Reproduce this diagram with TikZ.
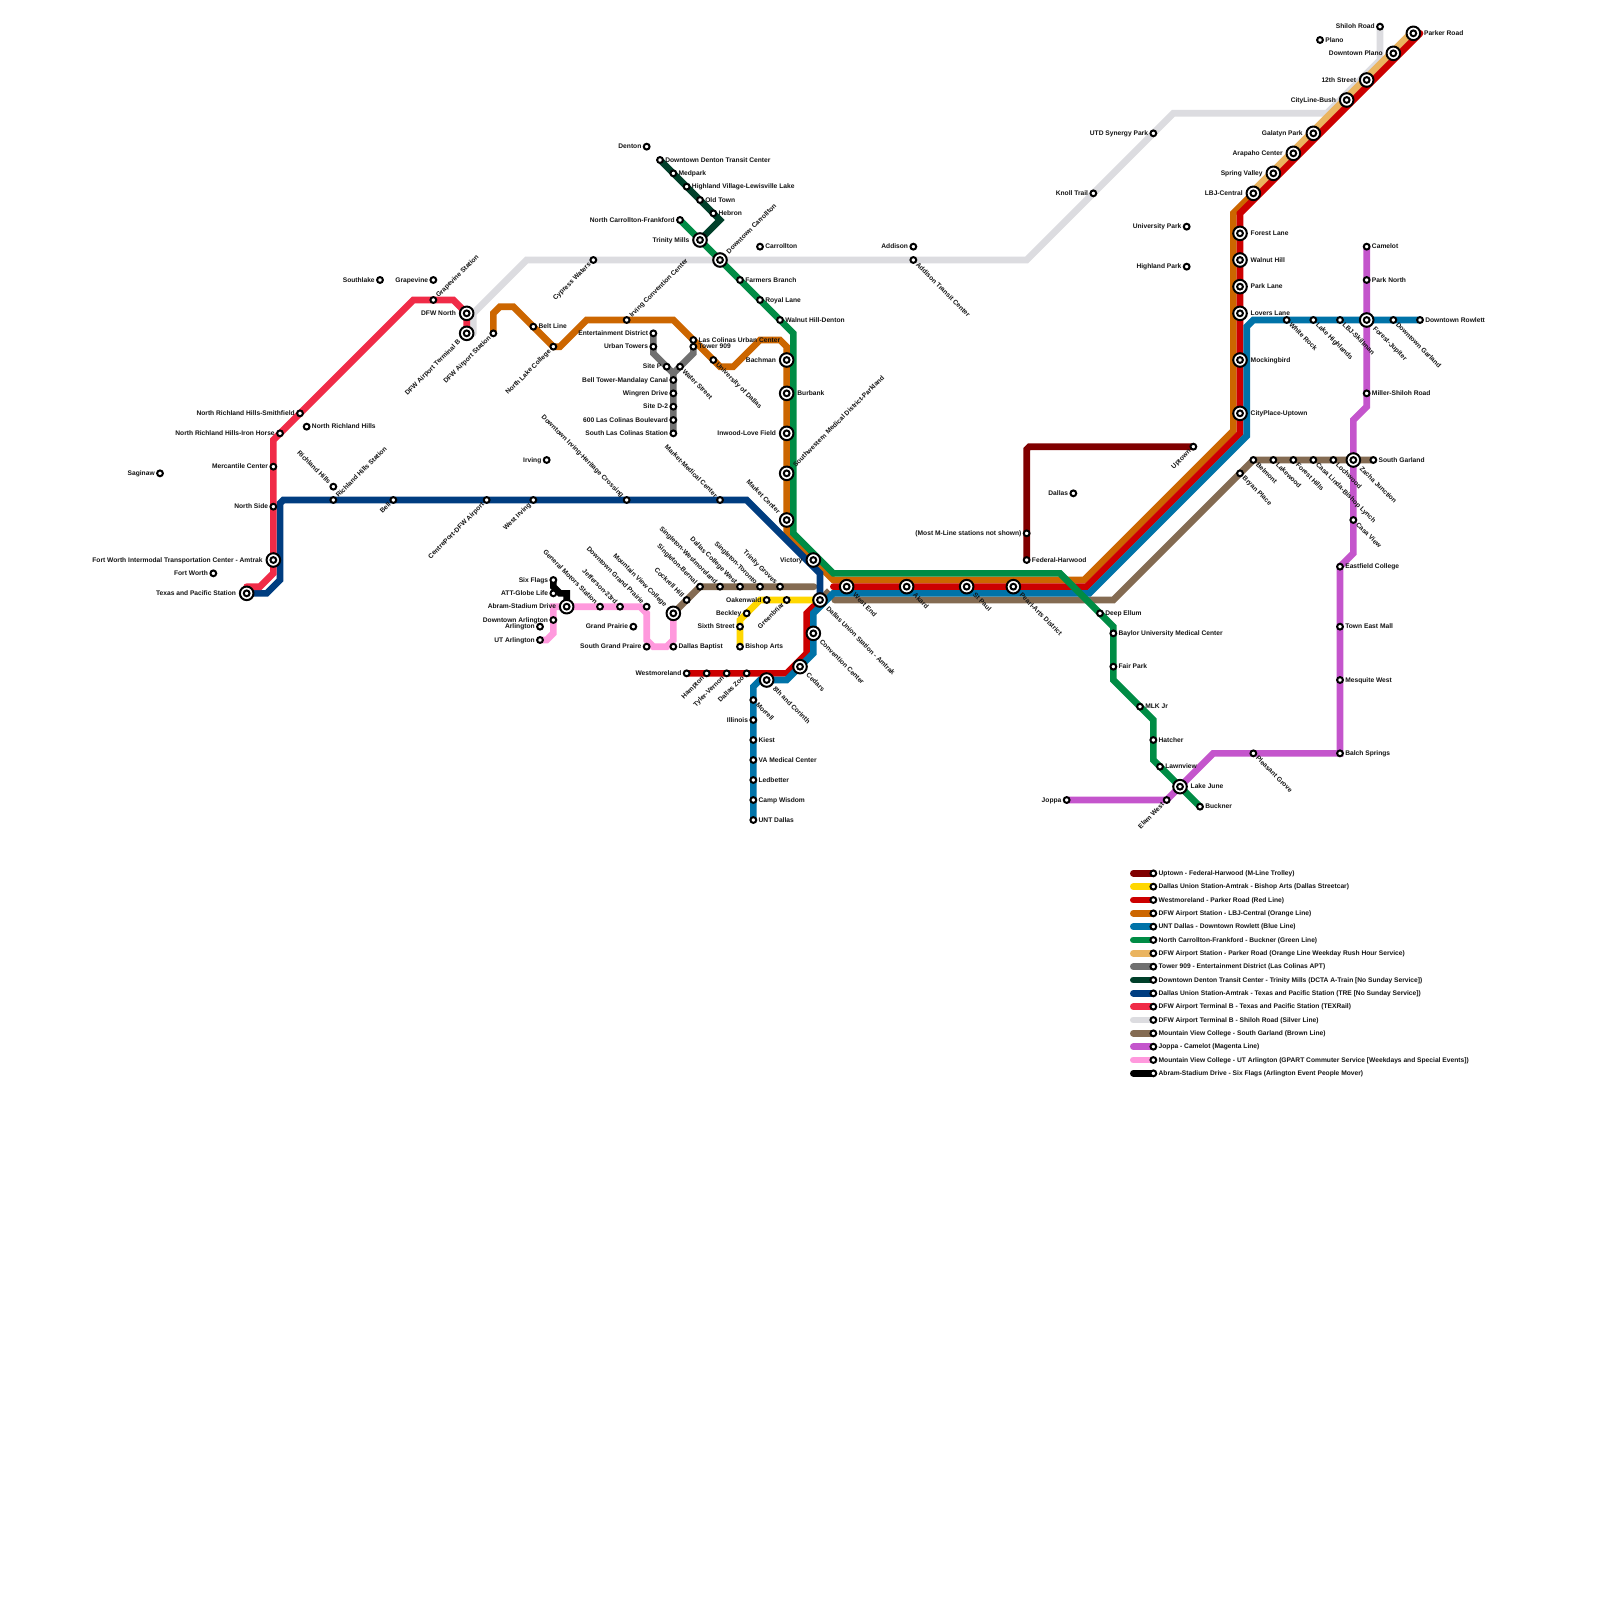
\documentclass[tikz,border=0pt]{standalone}
\usepackage{fontspec}
\setmainfont{Liberation Sans}
\pgfdeclarelayer{lines}
\pgfsetlayers{lines,main}
\definecolor{cM}{HTML}{800000}
\definecolor{cY}{HTML}{FFD700}
\definecolor{cR}{HTML}{CC0000}
\definecolor{cO}{HTML}{CC6600}
\definecolor{cB}{HTML}{0073A8}
\definecolor{cG}{HTML}{008C45}
\definecolor{cT}{HTML}{EAB45F}
\definecolor{cGy}{HTML}{707070}
\definecolor{cA}{HTML}{00402A}
\definecolor{cTRE}{HTML}{003D80}
\definecolor{cTX}{HTML}{F02B47}
\definecolor{cS}{HTML}{DCDCE0}
\definecolor{cBr}{HTML}{846B52}
\definecolor{cMg}{HTML}{C455CC}
\definecolor{cP}{HTML}{FF99DD}
\tikzset{
  smallst/.style={circle,draw=black,fill=white,line width=2pt,minimum size=5.8pt,inner sep=0pt,outer sep=0pt},
  bigst/.style={circle,draw=black,fill=white,line width=2pt,minimum size=13.6pt,inner sep=0pt,outer sep=0pt},
  lab/.style={font=\fontsize{6.667pt}{7pt}\selectfont\bfseries,text=black!92,inner sep=0pt,outer sep=0pt,text height=4.7pt,text depth=0.2pt},
  dirR/.style={shift={(0:#1)},anchor=west},
  dirL/.style={shift={(180:#1)},anchor=east},
  dirNE/.style={shift={(45:#1)},rotate=45,anchor=west},
  dirSE/.style={shift={(-45:#1)},rotate=-45,anchor=west},
  dirNW/.style={shift={(135:#1)},rotate=-45,anchor=east},
  dirSW/.style={shift={(225:#1)},rotate=45,anchor=east},
  metro/.style={line width=6.67pt,line cap=round,line join=miter,miter limit=10},
}
\newcommand{\Sm}[5]{\node[smallst] (#1) at (#2,#3) {}; \node[lab,dir#4=5.3pt] (#1-t) at (#1.center) {#5};}
\newcommand{\Bg}[5]{\node[bigst] (#1) at (#2,#3) {}; \node[smallst] (#1-i) at (#1.center) {}; \node[lab,dir#4=10.7pt] (#1-t) at (#1.center) {#5};}
\newcommand{\Lg}[4]{\coordinate (#1-a) at (170,#2); \node[smallst] (#1) at (173,#2) {}; \node[lab,dirR=5.3pt] (#1-t) at (#1.center) {#4}; \begin{pgfonlayer}{lines}\draw[metro,draw=#3] (#1-a) -- (#1.center);\end{pgfonlayer}}
\begin{document}
\begin{tikzpicture}[x=6.66667pt,y=-6.66667pt]
\useasboundingbox (0,0) rectangle (240,240);
\begin{pgfonlayer}{lines}
\fill[white] (0,0) rectangle (240,240);
\end{pgfonlayer}
% A-train / green north
\Sm{denton}{97}{22}{L}{Denton}
\Sm{ddtc}{99}{24}{R}{Downtown Denton Transit Center}
\Sm{medpark}{101}{26}{R}{Medpark}
\Sm{highland}{103}{28}{R}{Highland Village-Lewisville Lake}
\Sm{oldtown}{105}{30}{R}{Old Town}
\Sm{hebron}{107}{32}{R}{Hebron}
\Sm{ncf}{102}{33}{L}{North Carrollton-Frankford}
\Bg{trinity}{105}{36}{L}{Trinity Mills}
\Bg{dcarr}{108}{39}{NE}{Downtown Carrollton}
\Sm{carrollton}{114}{37}{R}{Carrollton}
\Sm{farmers}{111}{42}{R}{Farmers Branch}
\Sm{royal}{114}{45}{R}{Royal Lane}
\Sm{walnutd}{117}{48}{R}{Walnut Hill-Denton}
\Bg{bachman}{118}{54}{L}{Bachman}
\Bg{burbank}{118}{59}{R}{Burbank}
\Bg{inwood}{118}{65}{L}{Inwood-Love Field}
\Bg{swmd}{118}{71}{NE}{Southwestern Medical District-Parkland}
\Bg{marketc}{118}{78}{NW}{Market Center}
% silver
\Sm{cypress}{89}{39}{SW}{Cypress Waters}
\Sm{addison}{137}{37}{L}{Addison}
\Sm{addisontc}{137}{39}{SE}{Addison Transit Center}
\Sm{knoll}{164}{29}{L}{Knoll Trail}
\Sm{utd}{173}{20}{L}{UTD Synergy Park}
\Sm{upark}{178}{34}{L}{University Park}
\Sm{hpark}{178}{40}{L}{Highland Park}
\Sm{shiloh}{207}{4}{L}{Shiloh Road}
\Sm{plano}{198}{6}{R}{Plano}
% red / orange north-east
\Bg{parker}{212}{5}{R}{Parker Road}
\Bg{dplano}{209}{8}{L}{Downtown Plano}
\Bg{twelfth}{205}{12}{L}{12th Street}
\Bg{cityline}{202}{15}{L}{CityLine-Bush}
\Bg{galatyn}{197}{20}{L}{Galatyn Park}
\Bg{arapaho}{194}{23}{L}{Arapaho Center}
\Bg{spring}{191}{26}{L}{Spring Valley}
\Bg{lbj}{188}{29}{L}{LBJ-Central}
\Bg{forest}{186}{35}{R}{Forest Lane}
\Bg{walnut}{186}{39}{R}{Walnut Hill}
\Bg{parklane}{186}{43}{R}{Park Lane}
\Bg{lovers}{186}{47}{R}{Lovers Lane}
\Bg{mocking}{186}{54}{R}{Mockingbird}
\Bg{cityplace}{186}{62}{R}{CityPlace-Uptown}
% blue east
\Sm{whiterock}{193}{48}{SE}{White Rock}
\Sm{lakehigh}{197}{48}{SE}{Lake Highlands}
\Sm{skillman}{201}{48}{SE}{LBJ-Skillman}
\Bg{jupiter}{205}{48}{SE}{Forest-Jupiter}
\Sm{dgarland}{209}{48}{SE}{Downtown Garland}
\Sm{rowlett}{213}{48}{R}{Downtown Rowlett}
% magenta
\Sm{camelot}{205}{37}{R}{Camelot}
\Sm{parknorth}{205}{42}{R}{Park North}
\Sm{miller}{205}{59}{R}{Miller-Shiloh Road}
\Sm{casaview}{203}{78}{SE}{Casa View}
\Sm{eastfield}{201}{85}{R}{Eastfield College}
\Sm{towneast}{201}{94}{R}{Town East Mall}
\Sm{mesquite}{201}{102}{R}{Mesquite West}
\Sm{balch}{201}{113}{R}{Balch Springs}
\Sm{pleasant}{188}{113}{SE}{Pleasant Grove}
\Bg{lakejune}{177}{118}{R}{Lake June}
\Sm{elam}{175}{120}{SW}{Elam West}
\Sm{joppa}{160}{120}{L}{Joppa}
% brown east
\Sm{belmont}{188}{69}{SE}{Belmont}
\Sm{bryan}{186}{71}{SE}{Bryan Place}
\Sm{lakewood}{191}{69}{SE}{Lakewood}
\Sm{foresthills}{194}{69}{SE}{Forest Hills}
\Sm{casalinda}{197}{69}{SE}{Casa Linda-Bishop Lynch}
\Sm{lochwood}{200}{69}{SE}{Lochwood}
\Bg{zacha}{203}{69}{SE}{Zacha Junction}
\Sm{sgarland}{206}{69}{R}{South Garland}
% M-line
\Sm{uptown}{179}{67}{SW}{Uptown}
\Sm{mostm}{154}{80}{L}{(Most M-Line stations not shown)}
\Sm{federal}{154}{84}{R}{Federal-Harwood}
\Sm{dallas}{161}{74}{L}{Dallas}
% green south
\Sm{deepellum}{165}{92}{R}{Deep Ellum}
\Sm{baylor}{167}{95}{R}{Baylor University Medical Center}
\Sm{fairpark}{167}{100}{R}{Fair Park}
\Sm{mlk}{171}{106}{R}{MLK Jr}
\Sm{hatcher}{173}{111}{R}{Hatcher}
\Sm{lawnview}{174}{115}{R}{Lawnview}
\Sm{buckner}{180}{121}{R}{Buckner}
% downtown
\Bg{victory}{122}{84}{L}{Victory}
\Bg{union}{123}{90}{SE}{Dallas Union Station - Amtrak}
\Bg{westend}{127}{88}{SE}{West End}
\Bg{akard}{136}{88}{SE}{Akard}
\Bg{stpaul}{145}{88}{SE}{St Paul}
\Bg{pearl}{152}{88}{SE}{Pearl-Arts District}
\Bg{convention}{122}{95}{SE}{Convention Center}
\Bg{cedars}{120}{100}{SE}{Cedars}
\Bg{corinth}{115}{102}{SE}{8th and Corinth}
% yellow
\Sm{greenbriar}{118}{90}{SW}{Greenbriar}
\Sm{oakenwald}{115}{90}{L}{Oakenwald}
\Sm{beckley}{112}{92}{L}{Beckley}
\Sm{sixth}{111}{94}{L}{Sixth Street}
\Sm{bishop}{111}{97}{R}{Bishop Arts}
% red south-west
\Sm{westmoreland}{103}{101}{L}{Westmoreland}
\Sm{hampton}{106}{101}{SW}{Hampton}
\Sm{tyler}{109}{101}{SW}{Tyler-Vernon}
\Sm{zoo}{112}{101}{SW}{Dallas Zoo}
% blue south
\Sm{morrell}{113}{105}{SE}{Morrell}
\Sm{illinois}{113}{108}{L}{Illinois}
\Sm{kiest}{113}{111}{R}{Kiest}
\Sm{va}{113}{114}{R}{VA Medical Center}
\Sm{ledbetter}{113}{117}{R}{Ledbetter}
\Sm{campw}{113}{120}{R}{Camp Wisdom}
\Sm{unt}{113}{123}{R}{UNT Dallas}
% brown west
\Bg{mvc}{101}{92}{NW}{Mountain View College}
\Sm{cockrell}{103}{90}{NW}{Cockrell Hill}
\Sm{bernal}{105}{88}{NW}{Singleton-Bernal}
\Sm{swest}{108}{88}{NW}{Singleton-Westmoreland}
\Sm{dcw}{111}{88}{NW}{Dallas College West}
\Sm{storonto}{114}{88}{NW}{Singleton-Toronto}
\Sm{groves}{117}{88}{NW}{Trinity Groves}
% pink / black
\Sm{dbaptist}{101}{97}{R}{Dallas Baptist}
\Sm{sgp}{97}{97}{L}{South Grand Praire}
\Sm{gp}{95}{94}{L}{Grand Prairie}
\Sm{dgp}{97}{91}{NW}{Downtown Grand Prairie}
\Sm{jeff}{93}{91}{NW}{Jefferson-23rd}
\Sm{gm}{90}{91}{NW}{General Motors Station}
\Bg{abram}{85}{91}{L}{Abram-Stadium Drive}
\Sm{sixflags}{83}{87}{L}{Six Flags}
\Sm{att}{83}{89}{L}{ATT-Globe Life}
\Sm{darl}{83}{93}{L}{Downtown Arlington}
\Sm{arl}{81}{94}{L}{Arlington}
\Sm{uta}{81}{96}{L}{UT Arlington}
% orange west
\Sm{dfwa}{74}{50}{SW}{DFW Airport Station}
\Sm{beltline}{80}{49}{R}{Belt Line}
\Sm{nlc}{83}{52}{SW}{North Lake College}
\Sm{icc}{94}{48}{NE}{Irving Convention Center}
\Sm{lcuc}{104}{51}{R}{Las Colinas Urban Center}
\Sm{tower}{104}{52}{R}{Tower 909}
\Sm{udallas}{107}{54}{SE}{University of Dallas}
% grey
\Sm{ent}{98}{50}{L}{Entertainment District}
\Sm{urban}{98}{52}{L}{Urban Towers}
\Sm{sitep}{100}{55}{L}{Site P}
\Sm{water}{102}{55}{SE}{Water Street}
\Sm{bell2}{101}{57}{L}{Bell Tower-Mandalay Canal}
\Sm{wingren}{101}{59}{L}{Wingren Drive}
\Sm{sited}{101}{61}{L}{Site D-2}
\Sm{lc600}{101}{63}{L}{600 Las Colinas Boulevard}
\Sm{slc}{101}{65}{L}{South Las Colinas Station}
% TRE
\Sm{irving}{82}{69}{L}{Irving}
\Sm{marketm}{108}{75}{NW}{Market-Medical Center}
\Sm{dirving}{94}{75}{NW}{Downtown Irving-Heritage Crossing}
\Sm{wirving}{80}{75}{SW}{West Irving}
\Sm{centre}{73}{75}{SW}{CentrePort-DFW Airport}
\Sm{bell}{59}{75}{SW}{Bell}
\Sm{rhs}{50}{75}{NE}{Richland Hills Station}
\Sm{rh}{50}{73}{NW}{Richland Hills}
% TEXRail
\Bg{dfwn}{70}{47}{L}{DFW North}
\Bg{termb}{70}{50}{SW}{DFW Airport Terminal B}
\Sm{grapes}{65}{45}{NE}{Grapevine Station}
\Sm{grapevine}{65}{42}{L}{Grapevine}
\Sm{southlake}{57}{42}{L}{Southlake}
\Sm{nrhs}{45}{62}{L}{North Richland Hills-Smithfield}
\Sm{nrhi}{42}{65}{L}{North Richland Hills-Iron Horse}
\Sm{nrh}{46}{64}{R}{North Richland Hills}
\Sm{mercantile}{41}{70}{L}{Mercantile Center}
\Sm{northside}{41}{76}{L}{North Side}
\Bg{fwit}{41}{84}{L}{Fort Worth Intermodal Transportation Center - Amtrak}
\Sm{fw}{32}{86}{L}{Fort Worth}
\Bg{tp}{37}{89}{L}{Texas and Pacific Station}
\Sm{saginaw}{24}{71}{L}{Saginaw}
% legend
\Lg{lg1}{131}{cM}{Uptown - Federal-Harwood (M-Line Trolley)}
\Lg{lg2}{133}{cY}{Dallas Union Station-Amtrak - Bishop Arts (Dallas Streetcar)}
\Lg{lg3}{135}{cR}{Westmoreland - Parker Road (Red Line)}
\Lg{lg4}{137}{cO}{DFW Airport Station - LBJ-Central (Orange Line)}
\Lg{lg5}{139}{cB}{UNT Dallas - Downtown Rowlett (Blue Line)}
\Lg{lg6}{141}{cG}{North Carrollton-Frankford - Buckner (Green Line)}
\Lg{lg7}{143}{cT}{DFW Airport Station - Parker Road (Orange Line Weekday Rush Hour Service)}
\Lg{lg8}{145}{cGy}{Tower 909 - Entertainment District (Las Colinas APT)}
\Lg{lg9}{147}{cA}{Downtown Denton Transit Center - Trinity Mills (DCTA A-Train [No Sunday Service])}
\Lg{lg10}{149}{cTRE}{Dallas Union Station-Amtrak - Texas and Pacific Station (TRE [No Sunday Service])}
\Lg{lg11}{151}{cTX}{DFW Airport Terminal B - Texas and Pacific Station (TEXRail)}
\Lg{lg12}{153}{cS}{DFW Airport Terminal B - Shiloh Road (Silver Line)}
\Lg{lg13}{155}{cBr}{Mountain View College - South Garland (Brown Line)}
\Lg{lg14}{157}{cMg}{Joppa - Camelot (Magenta Line)}
\Lg{lg15}{159}{cP}{Mountain View College - UT Arlington (GPART Commuter Service [Weekdays and Special Events])}
\Lg{lg16}{161}{black}{Abram-Stadium Drive - Six Flags (Arlington Event People Mover)}
% waypoints
\coordinate (si1) at (71,50); \coordinate (si2) at (71,47); \coordinate (si3) at (79,39);
\coordinate (si4) at (154,39); \coordinate (si5) at (176,17); \coordinate (si6) at (199,17); \coordinate (si7) at (207,9);
\coordinate (bw1) at (122.1,88); \coordinate (bs1) at (123.5,89.5); \coordinate (bs2) at (124.4,88.6);
\coordinate (be1) at (125.2,90); \coordinate (be2) at (167,90);
\coordinate (or1) at (74,47); \coordinate (or2) at (75,46); \coordinate (or3) at (77,46); \coordinate (or4) at (83,52);
\coordinate (or5) at (84,52); \coordinate (or6) at (88,48); \coordinate (or7) at (101,48); \coordinate (or8) at (108,55);
\coordinate (or9) at (110,55); \coordinate (or10) at (114,51); \coordinate (or11) at (117,51); \coordinate (or12) at (118,52);
\coordinate (or13) at (118,80); \coordinate (or14) at (125,87); \coordinate (or15) at (162.6,87); \coordinate (or16) at (185,64.6); \coordinate (or17) at (185,32);
\coordinate (tn1) at (188,28.6); \coordinate (tn2) at (212,4.6);
\coordinate (rd1) at (118,101); \coordinate (rd2) at (121,98); \coordinate (rd3) at (121,92); \coordinate (rd4) at (122.5,90.5);
\coordinate (rd5) at (125,88); \coordinate (rd6) at (163,88); \coordinate (rd7) at (186,65); \coordinate (rd8) at (186,32); \coordinate (rd9) at (213,5);
\coordinate (bl1) at (113,103); \coordinate (bl2) at (114,102); \coordinate (bl3) at (118,102); \coordinate (bl4) at (122,98); \coordinate (bl5) at (122,92);
\coordinate (bl6) at (125,89); \coordinate (bl7) at (163.4,89); \coordinate (bl8) at (187,65.4); \coordinate (bl9) at (187,49); \coordinate (bl10) at (188,48);
\coordinate (ml1) at (154.4,67); \coordinate (ml2) at (154,67.4);
\coordinate (ye1) at (114,90); \coordinate (ye2) at (111,93);
\coordinate (tr1) at (40,89); \coordinate (tr2) at (42,87); \coordinate (tr3) at (42,75.5); \coordinate (tr4) at (42.5,75); \coordinate (tr5) at (112,75); \coordinate (tr6) at (123,86);
\coordinate (tx1) at (70,47); \coordinate (tx2) at (68,45); \coordinate (tx3) at (62,45); \coordinate (tx4) at (41,66); \coordinate (tx5) at (41,86); \coordinate (tx6) at (39,88); \coordinate (tx7) at (37,88);
\coordinate (gr1) at (119,50); \coordinate (gr2) at (119,80); \coordinate (gr3) at (125,86); \coordinate (gr4) at (159,86); \coordinate (gr5) at (167,94); \coordinate (gr6) at (167,102); \coordinate (gr7) at (173,108); \coordinate (gr8) at (173,114);
\coordinate (at1) at (108,33);
\coordinate (gy1) at (98,53); \coordinate (gy2) at (101,56); \coordinate (gy3) at (104,53);
\coordinate (mg1) at (175,120); \coordinate (mg2) at (182,113); \coordinate (mg3) at (201,113); \coordinate (mg4) at (201,85); \coordinate (mg5) at (203,83); \coordinate (mg6) at (203,63); \coordinate (mg7) at (205,61);
\coordinate (pk1) at (101,96); \coordinate (pk2) at (100,97); \coordinate (pk3) at (98,97); \coordinate (pk4) at (97,96); \coordinate (pk5) at (97,92); \coordinate (pk6) at (96,91); \coordinate (pk7) at (83,91); \coordinate (pk8) at (83,95); \coordinate (pk9) at (82,96);
\coordinate (bk1) at (83,88); \coordinate (bk2) at (84,89); \coordinate (bk3) at (85,89);
\begin{pgfonlayer}{lines}
\draw[metro,cS] (si1) -- (si2) -- (si3) -- (si4) -- (si5) -- (si6) -- (si7) -- (shiloh.center);
\draw[metro,cBr] (mvc.center) -- (bernal.center) -- (bw1);
\draw[metro,cBr,line cap=butt] (bs1) -- (bs2);
\draw[metro,cBr] (be1) -- (be2) -- (belmont.center) -- (sgarland.center);
\draw[metro,cO] (dfwa.center) -- (or1) -- (or2) -- (or3) -- (or4) -- (or5) -- (or6) -- (or7) -- (or8) -- (or9) -- (or10) -- (or11) -- (or12) -- (or13) -- (or14) -- (or15) -- (or16) -- (or17) -- (lbj.center);
\draw[metro,cT] (tn1) -- (tn2);
\draw[metro,cR] (westmoreland.center) -- (rd1) -- (rd2) -- (rd3) -- (rd4);
\draw[metro,cR] (rd5) -- (rd6) -- (rd7) -- (rd8) -- (rd9);
\draw[metro,cB] (unt.center) -- (bl1) -- (bl2) -- (bl3) -- (bl4) -- (bl5) -- (bl6) -- (bl7) -- (bl8) -- (bl9) -- (bl10) -- (rowlett.center);
\draw[metro,cM] (uptown.center) -- (ml1) -- (ml2) -- (federal.center);
\draw[metro,cY] (union.center) -- (ye1) -- (ye2) -- (bishop.center);
\draw[metro,cP] (mvc.center) -- (pk1) -- (pk2) -- (pk3) -- (pk4) -- (pk5) -- (pk6) -- (pk7) -- (pk8) -- (pk9) -- (uta.center);
\draw[metro,cTRE] (tp.center) -- (tr1) -- (tr2) -- (tr3) -- (tr4) -- (tr5) -- (tr6) -- (union.center);
\draw[metro,cG] (ncf.center) -- (gr1) -- (gr2) -- (gr3) -- (gr4) -- (gr5) -- (gr6) -- (gr7) -- (gr8) -- (buckner.center);
\draw[metro,cGy] (ent.center) -- (gy1) -- (gy2) -- (slc.center);
\draw[metro,cGy] (tower.center) -- (gy3) -- (gy2);
\draw[metro,cA] (ddtc.center) -- (at1) -- (trinity.center);
\draw[metro,cTX] (termb.center) -- (tx1) -- (tx2) -- (tx3) -- (tx4) -- (tx5) -- (tx6) -- (tx7);
\draw[metro,cMg] (joppa.center) -- (mg1) -- (mg2) -- (mg3) -- (mg4) -- (mg5) -- (mg6) -- (mg7) -- (camelot.center);
\draw[metro,black] (sixflags.center) -- (bk1) -- (bk2) -- (bk3) -- (abram.center);
\end{pgfonlayer}
\end{tikzpicture}
\end{document}
